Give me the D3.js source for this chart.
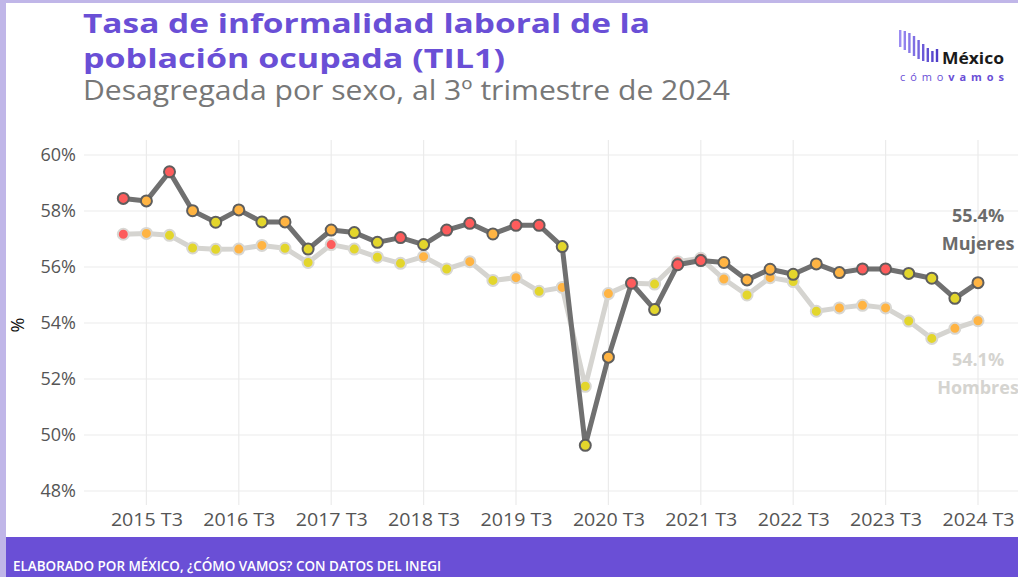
<!DOCTYPE html>
<html>
<head>
<meta charset="utf-8">
<script src="https://cdn.jsdelivr.net/npm/d3@7"></script>
<style>
  body { margin: 0; background: #fff; }
  svg { display: block; font-family: "Open Sans", "Noto Sans", sans-serif; }
</style>
</head>
<body>
<svg id="chart" width="1018" height="577"></svg>
<script>
// periods (trimestres) shown on the chart
const periods = [
  "2015 T2","2015 T3","2015 T4","2016 T1","2016 T2","2016 T3","2016 T4","2017 T1","2017 T2","2017 T3",
  "2017 T4","2018 T1","2018 T2","2018 T3","2018 T4","2019 T1","2019 T2","2019 T3","2019 T4","2020 T1",
  "2020 T2","2020 T3","2020 T4","2021 T1","2021 T2","2021 T3","2021 T4","2022 T1","2022 T2","2022 T3",
  "2022 T4","2023 T1","2023 T2","2023 T3","2023 T4","2024 T1","2024 T2","2024 T3"
];
const tickPeriods = ["2015 T3","2016 T3","2017 T3","2018 T3","2019 T3","2020 T3","2021 T3","2022 T3","2023 T3","2024 T3"];
const yTicks = [48, 50, 52, 54, 56, 58, 60];

// tasa de informalidad (%)
const mujeres = [
  58.45, 58.36, 59.40, 58.01, 57.60, 58.04, 57.61, 57.61, 56.64, 57.32,
  57.23, 56.88, 57.05, 56.80, 57.32, 57.56, 57.18, 57.49, 57.49, 56.73,
  49.63, 52.78, 55.42, 54.48, 56.08, 56.23, 56.16, 55.54, 55.92, 55.74,
  56.11, 55.80, 55.93, 55.93, 55.77, 55.60, 54.88, 55.44
];
const hombres = [
  57.17, 57.20, 57.13, 56.68, 56.63, 56.64, 56.77, 56.67, 56.16, 56.80,
  56.64, 56.35, 56.13, 56.37, 55.93, 56.19, 55.52, 55.62, 55.13, 55.27,
  51.74, 55.05, 55.42, 55.39, 56.19, 56.31, 55.57, 55.00, 55.62, 55.48,
  54.42, 54.54, 54.63, 54.54, 54.07, 53.45, 53.81, 54.08
];
// point category (r = rojo, o = naranja, y = amarillo)
const mujeresCat = ["r","o","r","o","y","o","y","o","y","o","y","y","r","y","r","r","o","r","r","y",
                    "y","o","r","y","r","r","o","o","o","y","o","o","r","r","y","y","y","o"];
const hombresCat = ["r","o","y","y","y","o","o","y","y","r","y","y","y","o","y","o","y","o","y","o",
                    "y","o","r","y","r","r","o","y","o","y","y","o","o","o","y","y","o","o"];

const catColor = { r: "#fd5c5c", o: "#ffb443", y: "#e3d62c" };
const purple = "#6a4fd6";

const svg = d3.select("#chart");

// frame
svg.append("rect").attr("width", 1018).attr("height", 577).attr("fill", "#c0b6e8");
svg.append("rect").attr("x", 6).attr("y", 3).attr("width", 1012).attr("height", 574).attr("fill", "#fff");
svg.append("rect").attr("x", 6).attr("y", 537).attr("width", 1012).attr("height", 40).attr("fill", purple);
svg.append("text").attr("x", 13).attr("y", 571)
  .attr("fill", "#fff").attr("font-size", 14).attr("font-weight", 600)
  .attr("textLength", 428).attr("lengthAdjust", "spacingAndGlyphs")
  .text("ELABORADO POR MÉXICO, ¿CÓMO VAMOS? CON DATOS DEL INEGI");

// titles
svg.append("text").attr("x", 83).attr("y", 33).attr("fill", purple)
  .attr("font-size", 27).attr("font-weight", 700)
  .attr("textLength", 567).attr("lengthAdjust", "spacingAndGlyphs")
  .text("Tasa de informalidad laboral de la");
svg.append("text").attr("x", 83).attr("y", 68).attr("fill", purple)
  .attr("font-size", 27).attr("font-weight", 700)
  .attr("textLength", 422).attr("lengthAdjust", "spacingAndGlyphs")
  .text("población ocupada (TIL1)");
svg.append("text").attr("x", 83).attr("y", 100).attr("fill", "#777")
  .attr("font-size", 27)
  .attr("textLength", 647).attr("lengthAdjust", "spacingAndGlyphs")
  .text("Desagregada por sexo, al 3º trimestre de 2024");

// logo
const logo = svg.append("g");
const barTops = [30, 31, 33, 36, 40, 44, 48, 51, 49];
const barBots = [47, 50, 53, 56, 59, 61, 62, 62, 62];
const barColor = d3.scaleLinear().domain([0, barTops.length - 1]).range(["#9c8cf2", "#4f3ec9"]);
barTops.forEach((t, i) => {
  logo.append("rect").attr("x", 899 + i * 4.6).attr("y", t)
    .attr("width", 2.4).attr("height", barBots[i] - t).attr("fill", barColor(i));
});
logo.append("text").attr("x", 942).attr("y", 64).attr("font-size", 16).attr("font-weight", 700)
  .attr("fill", "#1a1a1a").attr("textLength", 62).attr("lengthAdjust", "spacingAndGlyphs").text("México");
const lt = logo.append("text").attr("x", 900).attr("y", 81).attr("font-size", 11)
  .attr("fill", purple).attr("textLength", 104).attr("lengthAdjust", "spacing");
lt.append("tspan").text("cómo");
lt.append("tspan").attr("font-weight", 700).text("vamos");

// scales
const x = d3.scalePoint().domain(periods).range([123.3, 978]);
const y = d3.scaleLinear().domain([48, 60]).range([491, 155]);

// grid
const grid = svg.append("g");
grid.selectAll(".hg").data(yTicks).enter().append("line")
  .attr("x1", 84).attr("x2", 1018)
  .attr("y1", d => y(d)).attr("y2", d => y(d))
  .attr("stroke", "#ebebeb").attr("stroke-width", 1.2);
grid.selectAll(".vg").data(tickPeriods).enter().append("line")
  .attr("x1", d => x(d)).attr("x2", d => x(d))
  .attr("y1", 140).attr("y2", 505)
  .attr("stroke", "#ebebeb").attr("stroke-width", 1.2);

// axes
const yAxis = svg.append("g").attr("transform", "translate(84,0)")
  .call(d3.axisLeft(y).tickValues(yTicks).tickFormat(d => d + "%").tickSize(0).tickPadding(8));
yAxis.select(".domain").remove();
yAxis.selectAll("text").attr("font-size", 18).attr("fill", "#555")
  .attr("font-family", "'Open Sans','Noto Sans',sans-serif");

const xAxis = svg.append("g").attr("transform", "translate(0,507)")
  .call(d3.axisBottom(x).tickValues(tickPeriods).tickSize(0).tickPadding(6));
xAxis.select(".domain").remove();
xAxis.selectAll("text").attr("font-size", 18).attr("fill", "#555")
  .attr("font-family", "'Open Sans','Noto Sans',sans-serif")
  .attr("textLength", 72).attr("lengthAdjust", "spacingAndGlyphs");

svg.append("text").attr("transform", "translate(24,325) rotate(-90)")
  .attr("text-anchor", "middle").attr("font-size", 18).attr("fill", "#111").text("%");

// series
const series = [
  { name: "Hombres", values: hombres, cats: hombresCat, line: "#d5d4d0", ring: "#d8d7d3", label: "#d5d4d0", dy: [366, 394] },
  { name: "Mujeres", values: mujeres, cats: mujeresCat, line: "#707070", ring: "#5e5e5e", label: "#6b6b6b", dy: [222, 250] }
];

const lineGen = d3.line().x((d, i) => x(periods[i])).y(d => y(d));

series.forEach(s => {
  const g = svg.append("g");
  g.append("path").datum(s.values).attr("d", lineGen)
    .attr("fill", "none").attr("stroke", s.line).attr("stroke-width", 5)
    .attr("stroke-linejoin", "round");
  g.selectAll("circle").data(s.values).enter().append("circle")
    .attr("cx", (d, i) => x(periods[i])).attr("cy", d => y(d)).attr("r", 5.5)
    .attr("fill", (d, i) => catColor[s.cats[i]])
    .attr("stroke", s.ring).attr("stroke-width", 2);
  const last = s.values[s.values.length - 1];
  const lx = x(periods[periods.length - 1]);
  g.append("text").attr("x", lx).attr("y", s.dy[0]).attr("text-anchor", "middle")
    .attr("font-size", 18).attr("font-weight", 700).attr("fill", s.label)
    .text(d3.format(".1f")(last) + "%");
  g.append("text").attr("x", lx).attr("y", s.dy[1]).attr("text-anchor", "middle")
    .attr("font-size", 18).attr("font-weight", 700).attr("fill", s.label)
    .text(s.name);
});
</script>
</body>
</html>
